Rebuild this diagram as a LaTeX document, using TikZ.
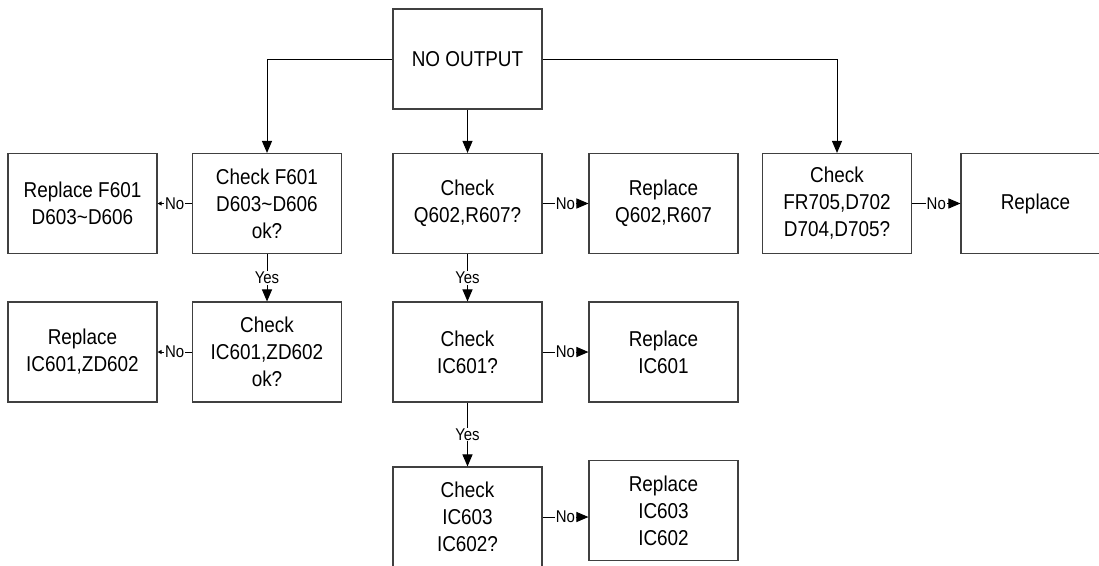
\documentclass[tikz,border=0pt]{standalone}
\usepackage{fontspec}
\setmainfont{Liberation Sans}[FakeStretch=0.88]
\usetikzlibrary{arrows.meta}
\begin{document}
\begin{tikzpicture}[
  x=1pt, y=-1pt,
  box/.style={rectangle, draw=black!75, line width=1.1pt, minimum width=149pt, minimum height=100pt, inner sep=2pt, align=center, font=\fontsize{21.5}{27}\selectfont},
  flow/.style={-{Triangle[length=12pt,width=10pt]}, line width=1pt},
  back/.style={-{Triangle[length=4pt,width=4pt]}, line width=1pt},
  tag/.style={fill=white, inner sep=1pt, font=\fontsize{17}{20}\selectfont},
]
  \useasboundingbox (0,0) rectangle (1099,565);
  \clip (0,0) rectangle (1099,565);

  \node[box] (out) at (467.5, 59) {NO OUTPUT};

  \node[box] (rf601) at (82.5, 203.5) {Replace F601\\D603\textasciitilde D606};
  \node[box] (cf601) at (267, 203.5) {Check F601\\D603\textasciitilde D606\\ok?};
  \node[box] (cq602) at (467.5, 203.5) {Check\\Q602,R607?};
  \node[box] (rq602) at (663.5, 203.5) {Replace\\Q602,R607};
  \node[box] (cfr705) at (837, 203.5) {Check\\FR705,D702\\D704,D705?};
  \node[box] (rfr705) at (1035.5, 203.5) {Replace};

  \node[box] (rzd602) at (82.5, 352) {Replace\\IC601,ZD602};
  \node[box] (czd602) at (267, 352) {Check\\IC601,ZD602\\ok?};
  \node[box] (cic601) at (467.5, 352) {Check\\IC601?};
  \node[box] (ric601) at (663.5, 352) {Replace\\IC601};

  \node[box] (cic603) at (467.5, 517) {Check\\IC603\\IC602?};
  \node[box] (ric603) at (663.5, 510.5) {Replace\\IC603\\IC602};

  \draw[flow] (out.west) -| (cf601);
  \draw[flow] (out) -- (cq602);
  \draw[flow] (out.east) -| (cfr705);

  \draw[back] (cf601) -- node[tag] {No} (rf601);
  \draw[flow] (cq602) -- node[tag] {No} (rq602);
  \draw[flow] (cfr705) -- node[tag] {No} (rfr705);

  \draw[flow] (cf601) -- node[tag] {Yes} (czd602);
  \draw[flow] (cq602) -- node[tag] {Yes} (cic601);

  \draw[back] (czd602) -- node[tag] {No} (rzd602);
  \draw[flow] (cic601) -- node[tag] {No} (ric601);

  \draw[flow] (cic601) -- node[tag] {Yes} (cic603);
  \draw[flow] (cic603.east) -- node[tag] {No} (cic603.east -| ric603.west);
\end{tikzpicture}
\end{document}
